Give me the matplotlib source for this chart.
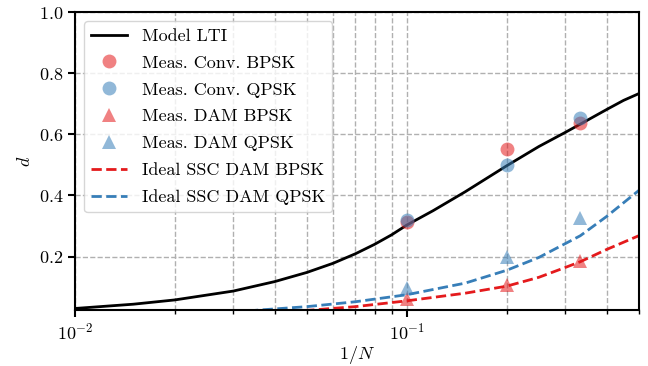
import matplotlib
matplotlib.use("Agg")
import matplotlib.pyplot as plt
from matplotlib.ticker import LogLocator, NullFormatter

plt.rcParams["font.family"] = "serif"
plt.rcParams["font.serif"] = ["cmr10"]
plt.rcParams["mathtext.fontset"] = "cm"
plt.rcParams["axes.formatter.use_mathtext"] = True
plt.rcParams["font.size"] = 13

RED = "#e41a1c"
BLUE = "#377eb8"

# Model LTI curve
model_x = [0.01, 0.015, 0.02, 0.03, 0.04, 0.05, 0.06, 0.07, 0.08, 0.09, 0.1,
           0.12, 0.15, 0.2, 0.25, 0.3, 0.35, 0.4, 0.45, 0.5]
model_y = [0.030, 0.044, 0.058, 0.087, 0.118, 0.148, 0.178, 0.209, 0.240, 0.271,
           0.303, 0.350, 0.412, 0.497, 0.560, 0.606, 0.646, 0.681, 0.711, 0.733]

# Ideal SSC DAM curves
ssc_q_x = [0.03, 0.036, 0.05, 0.07, 0.1, 0.15, 0.2, 0.25, 0.3, 0.3333, 0.4, 0.5]
ssc_q_y = [0.018, 0.025, 0.036, 0.052, 0.075, 0.113, 0.155, 0.197, 0.242, 0.268,
           0.331, 0.416]
ssc_b_x = [0.04, 0.052, 0.07, 0.1, 0.15, 0.2, 0.25, 0.3, 0.3333, 0.4, 0.5]
ssc_b_y = [0.018, 0.025, 0.036, 0.055, 0.080, 0.103, 0.132, 0.164, 0.183, 0.223,
           0.268]

# Measurements
meas_x = [0.1, 0.2, 1 / 3]
conv_bpsk = [0.312, 0.551, 0.638]
conv_qpsk = [0.321, 0.501, 0.652]
dam_bpsk = [0.062, 0.108, 0.187]
dam_qpsk = [0.098, 0.200, 0.327]

fig = plt.figure(figsize=(6.48, 3.66), dpi=100)
ax = fig.add_axes([0.1157, 0.153, 0.870, 0.814])

ax.plot(model_x, model_y, color="black", lw=2, label="Model LTI")
ax.plot(meas_x, conv_bpsk, "o", color=RED, alpha=0.55, ms=10, mew=0,
        label="Meas. Conv. BPSK")
ax.plot(meas_x, conv_qpsk, "o", color=BLUE, alpha=0.55, ms=10, mew=0,
        label="Meas. Conv. QPSK")
ax.plot(meas_x, dam_bpsk, "^", color=RED, alpha=0.55, ms=10, mew=0,
        label="Meas. DAM BPSK")
ax.plot(meas_x, dam_qpsk, "^", color=BLUE, alpha=0.55, ms=10, mew=0,
        label="Meas. DAM QPSK")
ax.plot(ssc_b_x, ssc_b_y, "--", color=RED, lw=2, label="Ideal SSC DAM BPSK")
ax.plot(ssc_q_x, ssc_q_y, "--", color=BLUE, lw=2, label="Ideal SSC DAM QPSK")

ax.set_xscale("log")
ax.set_xlim(0.01, 0.5)
ax.set_ylim(0.025, 1.0)
ax.set_yticks([0.2, 0.4, 0.6, 0.8, 1.0])
ax.xaxis.set_minor_locator(LogLocator(base=10, subs=range(2, 10)))
ax.xaxis.set_minor_formatter(NullFormatter())

ax.grid(True, which="both", axis="x", ls="--", color="#b0b0b0", lw=1)
ax.grid(True, which="major", axis="y", ls="--", color="#b0b0b0", lw=1)

for s in ax.spines.values():
    s.set_linewidth(1.5)
ax.tick_params(which="major", width=1.5, length=5)
ax.tick_params(which="minor", width=1, length=3)

ax.set_xlabel("$1/N$", labelpad=1)
ax.set_ylabel("$d$")

ax.legend(loc="upper left", fontsize=13, framealpha=0.8, labelspacing=0.62)

fig.savefig("out.png", dpi=100)
